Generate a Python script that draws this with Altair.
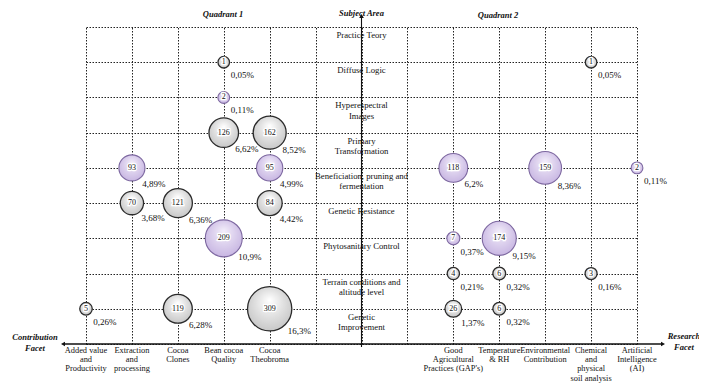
import altair as alt
import pandas as pd

# ---------------- data ----------------
facets = [
    "Added value and Productivity", "Extraction and processing", "Cocoa Clones",
    "Bean cocoa Quality", "Cocoa Theobroma", "_gapL", "_axis", "_gapR",
    "Good Agricultural Practices (GAP's)", "Temperature & RH",
    "Environmental Contribution", "Chemical and physical soil analysis",
    "Artificial Intelligence (AI)",
]
facet_display = [
    "Added value\nand\nProductivity", "Extraction\nand\nprocessing", "Cocoa\nClones",
    "Bean cocoa\nQuality", "Cocoa\nTheobroma", "", "", "",
    "Good\nAgricultural\nPractices (GAP's)", "Temperature\n& RH",
    "Environmental\nContribution", "Chemical\nand\nphysical\nsoil analysis",
    "Artificial\nIntelligence\n(AI)",
]
subjects = [
    "Practice Teory", "Diffuse Logic", "Hyperespectral Images", "Primary Transformation",
    "Beneficiation, pruning and fermentation", "Genetic Resistance",
    "Phytosanitary Control", "Terrain conditions and altitude level", "Genetic Improvement",
]
subject_display = [
    "Practice Teory", "Diffuse Logic", "Hyperespectral\nImages", "Primary\nTransformation",
    "Beneficiation, pruning and\nfermentation", "Genetic Resistance",
    "Phytosanitary Control", "Terrain conditions and\naltitude level", "Genetic\nImprovement",
]

b_subject = [
    "Diffuse Logic", "Hyperespectral Images", "Primary Transformation", "Primary Transformation",
    "Beneficiation, pruning and fermentation", "Beneficiation, pruning and fermentation",
    "Genetic Resistance", "Genetic Resistance", "Genetic Resistance",
    "Phytosanitary Control",
    "Genetic Improvement", "Genetic Improvement", "Genetic Improvement",
    "Diffuse Logic",
    "Beneficiation, pruning and fermentation", "Beneficiation, pruning and fermentation",
    "Beneficiation, pruning and fermentation",
    "Phytosanitary Control", "Phytosanitary Control",
    "Terrain conditions and altitude level", "Terrain conditions and altitude level",
    "Terrain conditions and altitude level",
    "Genetic Improvement", "Genetic Improvement",
]
b_facet = [
    "Bean cocoa Quality", "Bean cocoa Quality", "Bean cocoa Quality", "Cocoa Theobroma",
    "Extraction and processing", "Cocoa Theobroma",
    "Extraction and processing", "Cocoa Clones", "Cocoa Theobroma",
    "Bean cocoa Quality",
    "Added value and Productivity", "Cocoa Clones", "Cocoa Theobroma",
    "Chemical and physical soil analysis",
    "Good Agricultural Practices (GAP's)", "Environmental Contribution",
    "Artificial Intelligence (AI)",
    "Good Agricultural Practices (GAP's)", "Temperature & RH",
    "Good Agricultural Practices (GAP's)", "Temperature & RH",
    "Chemical and physical soil analysis",
    "Good Agricultural Practices (GAP's)", "Temperature & RH",
]
b_value = [1, 2, 126, 162, 93, 95, 70, 121, 84, 209, 5, 119, 309,
           1, 118, 159, 2, 7, 174, 4, 6, 3, 26, 6]
b_pct = ["0,05%", "0,11%", "6,62%", "8,52%", "4,89%", "4,99%", "3,68%", "6,36%", "4,42%",
         "10,9%", "0,26%", "6,28%", "16,3%",
         "0,05%", "6,2%", "8,36%", "0,11%", "0,37%", "9,15%", "0,21%", "0,32%", "0,16%",
         "1,37%", "0,32%"]
b_group = ["gray", "purple", "gray", "gray", "purple", "purple", "gray", "gray", "gray",
           "purple", "gray", "gray", "gray",
           "gray", "purple", "purple", "purple", "purple", "purple", "gray", "gray", "gray",
           "gray", "gray"]

bubbles = pd.DataFrame({"subject": b_subject, "facet": b_facet, "value": b_value,
                        "pct": b_pct, "group": b_group})
subj_df = pd.DataFrame({"subject": subjects, "label": subject_display})
facet_df = pd.DataFrame({"facet": facets, "label": facet_display})
facet_df = facet_df[facet_df["label"] != ""]
one = pd.DataFrame({"k": [0]})  # single row for decorations

# ---------------- styling ----------------
SERIF = "Liberation Serif"
W, H = 551, 317
y_domain = subjects + ["_origin"]

xs = alt.Scale(type="point", domain=facets, padding=0)
ys = alt.Scale(type="point", domain=y_domain, padding=0)
grid_kw = dict(grid=True, gridDash=[1.5, 1.5], gridColor="#222222", gridWidth=1,
               labels=False, ticks=False, domain=False, title=None)
X = alt.X("facet:N", scale=xs, axis=alt.Axis(**grid_kw))
Y = alt.Y("subject:N", scale=ys, axis=alt.Axis(**grid_kw))

size_enc = alt.Size("value:Q", scale=alt.Scale(domain=[1, 309], range=[133, 1963], zero=False),
                    legend=None)

gray_grad = alt.RadialGradient(
    gradient="radial",
    stops=[alt.GradientStop(color="#ffffff", offset=0), alt.GradientStop(color="#c2c2c2", offset=1)],
    x1=0.5, y1=0.3, r1=0, x2=0.5, y2=0.45, r2=0.62)
purple_grad = alt.RadialGradient(
    gradient="radial",
    stops=[alt.GradientStop(color="#f3eefa", offset=0), alt.GradientStop(color="#c4b1e0", offset=1)],
    x1=0.5, y1=0.3, r1=0, x2=0.5, y2=0.45, r2=0.62)

base = alt.Chart(bubbles)

gray_c = base.transform_filter(alt.datum.group == "gray").mark_circle(
    fill=gray_grad, stroke="#2b2b2b", strokeWidth=1.3, opacity=1
).encode(x=X, y=Y, size=size_enc)
purple_c = base.transform_filter(alt.datum.group == "purple").mark_circle(
    fill=purple_grad, stroke="#7d68a0", strokeWidth=1.1, opacity=1
).encode(x=X, y=Y, size=size_enc)

halo = base.mark_text(font=SERIF, fontSize=8, color="white",
                      stroke="white", strokeWidth=2.5).encode(x=X, y=Y, text="value:Q")
nums = base.mark_text(font=SERIF, fontSize=8, color="#111111").encode(
    x=X, y=Y, text="value:Q")

pcts = base.mark_text(font=SERIF, fontSize=9, align="left", baseline="middle",
                      color="#111111").encode(
    x=X, y=Y, text="pct:N",
    xOffset=alt.XOffset("value:Q", scale=alt.Scale(domain=[1, 309], range=[7, 18], zero=False)),
    yOffset=alt.YOffset("value:Q", scale=alt.Scale(domain=[1, 309], range=[13, 22], zero=False)),
)

subj_text = alt.Chart(subj_df).mark_text(
    font=SERIF, fontSize=8.7, baseline="top", dy=4, lineBreak="\n", lineHeight=10.5,
    color="#111111"
).encode(x=alt.XDatum("_axis", type="nominal", scale=xs), y=alt.Y("subject:N", scale=ys),
         text="label:N")

facet_text = alt.Chart(facet_df).mark_text(
    font=SERIF, fontSize=8.4, baseline="top", lineBreak="\n", lineHeight=9.2, color="#111111"
).encode(x=alt.X("facet:N", scale=xs), y=alt.value(H + 2), text="label:N")

# axes (solid, with arrowheads)
dec = alt.Chart(one)
h_axis = dec.mark_rule(color="#111111", strokeWidth=1.4).encode(
    y=alt.YDatum("_origin", type="nominal", scale=ys), x=alt.value(-22), x2=alt.value(576))
v_axis = dec.mark_rule(color="#111111", strokeWidth=1.1).encode(
    x=alt.XDatum("_axis", type="nominal", scale=xs), y=alt.value(-10), y2=alt.value(H + 3))
arr_l = dec.mark_point(shape="triangle-left", filled=True, size=22,
                       color="#111111", opacity=1).encode(
    y=alt.YDatum("_origin", type="nominal", scale=ys), x=alt.value(-23))
arr_r = dec.mark_point(shape="triangle-right", filled=True, size=22,
                       color="#111111", opacity=1).encode(
    y=alt.YDatum("_origin", type="nominal", scale=ys), x=alt.value(577))
arr_t = dec.mark_point(shape="triangle-up", filled=True, size=22,
                       color="#111111", opacity=1).encode(
    x=alt.XDatum("_axis", type="nominal", scale=xs), y=alt.value(-11))

def title_text(txt, x, y, align="center"):
    return dec.mark_text(
        text=txt, font=SERIF, fontSize=8.5, fontStyle="italic", fontWeight="bold",
        lineBreak="\n", lineHeight=11, align=align, color="#111111"
    ).encode(x=alt.value(x), y=alt.value(y))

subject_title = dec.mark_text(
    text="Subject Area", font=SERIF, fontSize=8.5, fontStyle="italic", fontWeight="bold",
    baseline="top", color="#111111"
).encode(x=alt.XDatum("_axis", type="nominal", scale=xs), y=alt.value(-18))

q1 = title_text("Quadrant 1", 137, -13)
q2 = title_text("Quadrant 2", 412, -12)
contrib = title_text("Contribution\nFacet", -51, H - 7)
research = title_text("Research\nFacet", 598, H - 8)

chart = alt.layer(
    gray_c, purple_c, halo, nums, pcts, subj_text, facet_text,
    h_axis, v_axis, arr_l, arr_r, arr_t, subject_title, q1, q2, contrib, research
).properties(
    width=W, height=H,
    autosize=alt.AutoSizeParams(type="none"),
    padding={"left": 78, "top": 19, "right": 62, "bottom": 39},
    background="white",
).configure_view(stroke=None)

chart.save("out.html", embed_options={"renderer": "svg", "actions": False})
